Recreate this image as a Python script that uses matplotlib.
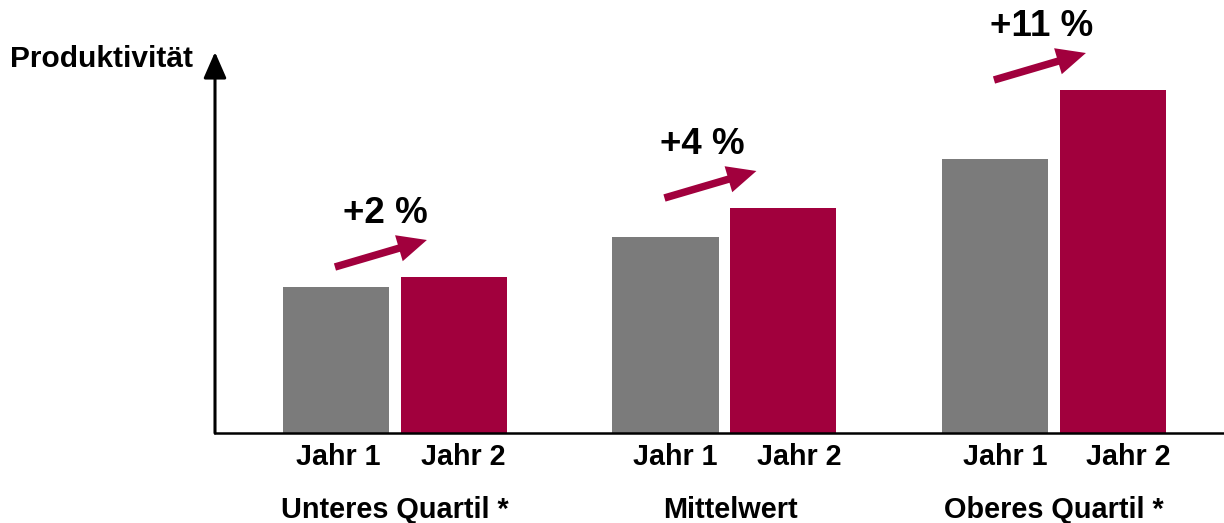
import numpy as np
import matplotlib.pyplot as plt
from matplotlib.patches import FancyArrowPatch

plt.rcParams['font.family'] = ['Liberation Sans', 'DejaVu Sans']
plt.rcParams['font.weight'] = 'bold'

# productivity index per group, year 1 vs year 2
groups = ['Unteres Quartil *', 'Mittelwert', 'Oberes Quartil *']
jahr1 = [146, 196, 274]
jahr2 = [156, 225, 343]
growth = ['+2 %', '+4 %', '+11 %']
bar_labels = ['Jahr 1', 'Jahr 2']

grey = '#7b7b7b'
red = '#a1003d'

fig = plt.figure(figsize=(12.24, 5.23), dpi=100)
ax = fig.add_axes([215 / 1224, 90 / 523, 1 - 215 / 1224, (433 - 52) / 523])

x = np.arange(len(groups))
w = 0.322
off = 0.179
ax.bar(x - off, jahr1, width=w, color=grey, zorder=2)
ax.bar(x + off, jahr2, width=w, color=red, zorder=2)

ax.set_xlim(-0.546, 2.516)
ax.set_ylim(0, 381)

for s in ['top', 'right', 'left']:
    ax.spines[s].set_visible(False)
ax.spines['bottom'].set_linewidth(1.8)
ax.set_xticks([])
ax.set_yticks([])

# y axis with arrow head
ax.annotate('', xy=(0, 1), xytext=(0, 0), xycoords='axes fraction',
            arrowprops=dict(arrowstyle='-|>,head_length=0.8,head_width=0.35',
                            lw=2.2, color='black', mutation_scale=20,
                            shrinkA=0, shrinkB=0), annotation_clip=False)

# growth arrows and labels
txt_dx = [-0.03, -0.067, -0.036]
for i in range(len(groups)):
    arr = FancyArrowPatch((x[i] - 0.182, jahr2[i] + 10), (x[i] + 0.097, jahr2[i] + 37),
                          arrowstyle='simple,head_length=1.4,head_width=1.3,tail_width=0.36',
                          mutation_scale=15, color=red, lw=0, shrinkA=0, shrinkB=0,
                          clip_on=False)
    ax.add_patch(arr)
    ax.text(x[i] + txt_dx[i], jahr2[i] + 54, growth[i], ha='center', va='baseline',
            fontsize=26.5, fontweight='bold')

# category labels under the axis
lab_dx = [[0.006, 0.027], [0.03, 0.048], [0.03, 0.045]]
for i in range(len(groups)):
    for j, xb in enumerate([x[i] - off, x[i] + off]):
        ax.annotate(bar_labels[j], xy=(xb + lab_dx[i][j], 0), xytext=(0, -32),
                    textcoords='offset pixels', ha='center', va='baseline',
                    fontsize=20.6, fontweight='bold', annotation_clip=False)
    ax.annotate(groups[i], xy=(x[i] + [0.0, 0.018, 0.0][i], 0), xytext=(0, -85),
                textcoords='offset pixels', ha='center', va='baseline',
                fontsize=20.8, fontweight='bold', annotation_clip=False)

fig.text(10 / 1224, 1 - 67 / 523, 'Produktivität', ha='left', va='baseline',
         fontsize=21.5, fontweight='bold')

fig.savefig('out.png', dpi=100)
